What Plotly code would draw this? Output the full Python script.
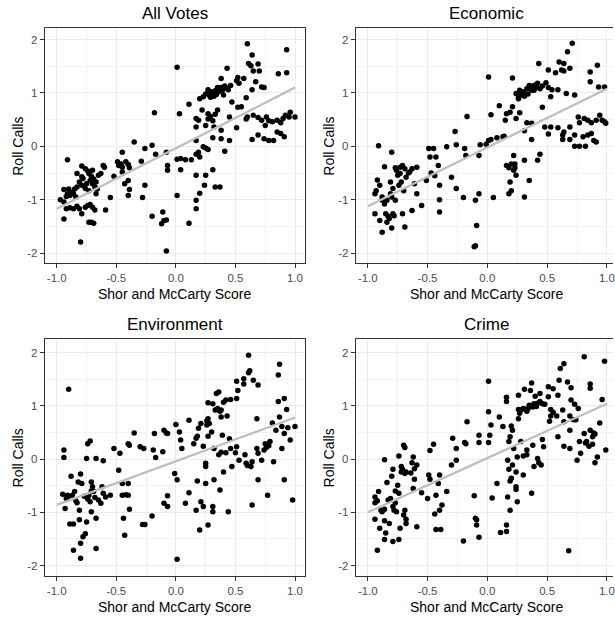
import plotly.graph_objects as go

# ---- data: (Shor and McCarty score, roll-call score) per legislator ----
all_votes = [
    (-0.91,-0.25),(-0.94,-0.81),(-0.94,-1.04),(-0.94,-1.36),(-0.92,-0.94),(-0.91,-0.89),(-0.89,-0.92),
    (-0.88,-0.86),(-0.86,-0.89),(-0.84,-0.95),(-0.83,-0.76),(-0.83,-0.51),(-0.81,-0.67),(-0.79,-0.37),
    (-0.79,-0.57),(-0.79,-0.73),(-0.76,-0.42),(-0.74,-0.46),(-0.73,-0.51),(-0.72,-0.64),(-0.71,-0.56),
    (-0.70,-0.70),(-0.69,-0.61),(-0.68,-0.76),(-0.67,-0.67),(-0.65,-0.54),(-0.63,-0.51),(-0.61,-0.36),
    (-0.60,-0.39),(-0.67,-0.89),(-0.76,-0.79),(-0.73,-0.83),(-0.92,-1.17),(-0.89,-1.15),(-0.86,-1.17),
    (-0.83,-1.12),(-0.81,-1.17),(-0.79,-1.26),(-0.76,-1.14),(-0.74,-1.11),(-0.72,-1.09),(-0.70,-1.14),
    (-0.68,-1.19),(-0.71,-1.42),(-0.69,-1.44),(-0.73,-1.42),(-0.80,-1.79),(-0.59,-1.19),(-0.55,-0.96),
    (-0.97,-1.00),(-0.90,-0.80),(-0.85,-0.80),(-0.78,-0.60),(-0.75,-0.70),(-0.70,-0.45),(-0.66,-0.80),
    (-0.35,0.08),(-0.52,-0.56),(-0.45,-0.11),(-0.49,-0.29),(-0.48,-0.36),(-0.46,-0.33),(-0.45,-0.39),
    (-0.42,-0.29),(-0.40,-0.34),(-0.39,-0.40),(-0.45,-0.48),(-0.43,-0.70),(-0.40,-0.64),(-0.39,-0.81),
    (-0.40,-0.92),(-0.29,-0.28),(-0.26,-0.04),(-0.26,-0.73),(-0.28,-0.96),(-0.20,0.02),(-0.17,-0.15),
    (-0.18,0.63),(-0.20,-1.31),
    (0.01,1.48),(0.03,0.61),(0.11,0.79),(-0.08,-0.11),(-0.07,-0.36),(-0.07,-0.45),(0.01,-0.24),
    (0.04,-0.23),(0.08,-0.25),(0.13,-0.25),(0.04,-0.44),(0.01,-0.92),(-0.11,-1.23),(-0.10,-1.39),
    (-0.12,-1.45),(-0.08,-1.38),(-0.08,-1.96),(0.11,-1.44),(0.17,-1.17),(0.17,-1.01),(0.20,-0.88),
    (0.24,-0.73),(0.17,-0.54),(0.25,-0.54),(0.17,-0.15),(0.19,-0.11),(0.23,-0.01),(0.25,-0.03),
    (0.27,-0.06),(0.20,-0.20),(0.17,0.11),(0.17,0.36),(0.17,0.52),(0.19,0.49),(0.22,0.68),(0.31,-0.44),
    (0.33,-0.76),(0.37,-0.76),(0.31,0.16),(0.32,0.36),(0.38,0.30),(0.38,0.14),(0.45,0.11),(0.41,-0.09),
    (0.20,0.89),(0.23,0.93),(0.25,0.98),(0.27,1.06),(0.28,0.96),(0.30,1.02),(0.32,0.94),(0.33,1.04),
    (0.35,1.10),(0.36,1.02),(0.38,1.27),(0.38,1.10),(0.40,0.96),(0.41,1.13),(0.43,1.46),(0.44,1.06),
    (0.46,1.14),(0.47,0.83),(0.51,1.23),(0.52,1.29),(0.53,1.18),(0.57,1.27),(0.59,0.91),(0.60,1.92),
    (0.61,1.55),(0.63,1.51),(0.64,1.71),(0.69,1.54),(0.65,1.41),(0.70,1.41),(0.67,1.21),(0.64,1.06),
    (0.72,1.11),(0.74,1.10),(0.86,1.36),(0.93,1.38),(0.93,1.81),(0.52,0.73),(0.55,0.74),(0.45,0.55),
    (0.51,0.35),(0.60,0.55),(0.59,0.51),(0.65,0.58),(0.27,0.61),(0.29,0.56),(0.33,0.60),(0.27,0.51),
    (0.31,0.48),(0.35,0.68),(0.25,0.39),(0.31,0.99),(0.34,0.97),(0.39,1.05),(0.42,1.09),(0.29,0.92),
    (0.69,0.54),(0.72,0.49),(0.76,0.55),(0.78,0.48),(0.81,0.46),(0.85,0.49),(0.88,0.44),(0.90,0.52),
    (0.92,0.58),(0.95,0.55),(0.96,0.64),(1.00,0.55),(0.75,0.39),(0.85,0.27),(0.88,0.24),(0.91,0.18),
    (0.69,0.21),(0.64,0.13),(0.74,0.14),(0.78,0.11),(0.82,0.11),
]

economic = [
    (-0.91,0.01),(-0.80,-0.11),(-0.94,-0.89),(-0.94,-1.26),(-0.92,-0.63),(-0.90,-0.73),(-0.88,-0.95),
    (-0.88,-1.61),(-0.90,-1.39),(-0.86,-0.38),(-0.86,-1.08),(-0.85,-1.26),(-0.84,-1.42),(-0.83,-1.31),
    (-0.81,-0.89),(-0.81,-0.67),(-0.80,-0.95),(-0.80,-1.53),(-0.79,-1.26),(-0.77,-1.01),(-0.76,-0.45),
    (-0.75,-0.54),(-0.74,-0.73),(-0.73,-0.39),(-0.73,-0.51),(-0.72,-0.67),(-0.71,-1.26),(-0.70,-0.83),
    (-0.69,-1.51),(-0.69,-0.42),(-0.68,-0.58),(-0.65,-0.48),(-0.63,-0.42),(-0.61,-0.70),(-0.59,-0.39),
    (-0.63,-1.20),(-0.59,-0.89),(-0.55,-1.11),(-0.88,-1.01),(-0.84,-1.01),(-0.79,-0.79),(-0.93,-0.83),
    (-0.77,-0.40),(-0.71,-0.36),(-0.66,-0.50),(-0.82,-1.35),(-0.78,-1.30),
    (-0.51,-0.64),(-0.48,-0.20),(-0.49,-0.04),(-0.45,-0.04),(-0.47,-0.50),(-0.43,-0.20),(-0.41,-0.36),
    (-0.40,-0.73),(-0.40,-1.00),(-0.40,-1.23),(-0.34,-0.01),(-0.30,-0.58),(-0.27,0.28),(-0.26,0.03),
    (-0.26,-0.79),(-0.20,-0.96),(-0.19,-0.04),(-0.18,-0.17),(-0.17,0.56),(-0.44,-0.55),
    (0.01,1.30),(-0.06,0.03),(-0.07,-0.17),(-0.10,-1.01),(-0.07,-0.89),(-0.09,-1.48),(-0.10,-1.86),
    (-0.11,-1.88),(-0.01,0.04),(0.01,0.11),(0.03,0.13),(0.03,0.59),(0.05,-0.96),(0.08,0.16),(0.10,0.76),
    (0.13,0.18),(0.14,0.19),(0.15,0.49),(0.16,0.61),(0.18,-0.89),(0.19,-0.67),(0.20,-0.83),(0.21,1.28),
    (0.22,-0.17),(0.16,-0.36),(0.20,-0.33),(0.23,-0.33),(0.22,-0.45),(0.24,-0.54),(0.31,-0.26),
    (0.31,-0.95),(0.35,-0.64),(0.21,0.74),(0.19,0.64),(0.24,0.52),(0.27,0.63),(0.31,0.29),(0.33,0.44),
    (0.37,0.13),(0.42,-0.26),(0.44,-0.15),(0.18,-0.40),(0.23,-0.40),
    (0.24,0.99),(0.26,0.89),(0.27,1.05),(0.28,0.96),(0.30,1.02),(0.31,0.94),(0.33,1.08),(0.34,0.98),
    (0.35,1.14),(0.37,1.05),(0.38,1.13),(0.39,1.05),(0.41,1.10),(0.42,1.18),(0.43,1.55),(0.44,1.08),
    (0.46,1.13),(0.49,1.19),(0.51,1.10),(0.51,1.43),(0.53,0.93),(0.54,1.06),(0.57,1.38),(0.59,1.06),
    (0.60,1.58),(0.62,1.43),(0.64,1.55),(0.64,1.41),(0.67,1.77),(0.71,1.93),(0.69,1.46),(0.66,0.99),
    (0.73,0.96),(0.86,1.39),(0.86,1.21),(0.92,1.52),(0.93,1.11),(0.98,1.11),(0.46,0.73),(0.48,0.36),
    (0.37,0.43),(0.51,0.23),(0.59,0.35),(0.53,0.36),(0.63,0.21),(0.63,0.13),(0.64,0.27),(0.26,0.91),
    (0.36,1.10),(0.40,1.15),
    (0.69,0.36),(0.76,0.55),(0.77,0.44),(0.81,0.52),(0.84,0.49),(0.87,0.44),(0.91,0.49),(0.94,0.58),
    (0.96,0.49),(0.98,0.46),(0.99,0.43),(0.73,0.21),(0.69,0.13),(0.73,0.00),(0.77,0.00),(0.82,0.00),
    (0.80,0.18),(0.84,0.21),(0.87,0.24),(0.89,0.11),(0.91,0.08),
]

environment = [
    (-0.90,1.31),(-0.94,0.17),(-0.94,0.03),(-0.95,-0.66),(-0.92,-0.74),(-0.93,-0.93),(-0.91,-0.68),
    (-0.88,-0.32),(-0.89,-1.22),(-0.86,-1.22),(-0.86,-1.71),(-0.85,-0.61),(-0.83,-0.82),(-0.82,-0.43),
    (-0.81,-0.96),(-0.81,-1.14),(-0.80,-0.28),(-0.79,-0.46),(-0.80,-1.86),(-0.80,-1.58),(-0.78,-1.46),
    (-0.75,0.01),(-0.74,0.29),(-0.72,0.34),(-0.75,-1.18),(-0.73,-0.68),(-0.72,-0.80),(-0.71,-0.43),
    (-0.71,-0.99),(-0.70,-0.52),(-0.69,-0.61),(-0.68,-0.72),(-0.67,0.01),(-0.67,-1.11),(-0.67,-1.68),
    (-0.65,-0.77),(-0.63,-0.83),(-0.61,-0.03),(-0.62,-0.52),(-0.61,-0.64),(-0.59,-0.71),(-0.55,-0.68),
    (-0.90,-0.70),(-0.87,-0.68),(-0.84,-0.78),(-0.77,-0.70),(-0.74,-0.75),(-0.71,-0.60),(-0.76,-1.40),
    (-0.52,0.20),(-0.47,0.11),(-0.48,-0.21),(-0.45,-0.46),(-0.45,-0.68),(-0.44,-1.11),(-0.43,-1.43),
    (-0.40,-0.68),(-0.40,-0.46),(-0.39,-0.94),(-0.40,0.29),(-0.39,0.26),(-0.35,0.49),(-0.30,0.23),
    (-0.27,0.20),(-0.28,-1.23),(-0.26,-1.23),(-0.20,-1.07),(-0.18,0.48),(-0.17,0.03),(-0.19,0.17),
    (-0.11,0.14),(-0.10,0.54),(-0.08,0.49),(-0.07,0.48),(-0.10,-0.83),(-0.07,-0.69),(-0.07,-0.89),
    (-0.42,-0.67),
    (0.00,0.65),(-0.01,-0.27),(0.01,-0.39),(0.01,-1.88),(0.03,0.51),(0.04,0.36),(0.05,0.20),(0.11,0.73),
    (0.11,-0.63),(0.08,-0.83),(0.15,0.29),(0.17,0.39),(0.18,0.43),(0.19,0.58),(0.18,-0.41),(0.17,-0.96),
    (0.20,-1.33),(0.21,-0.80),(0.23,0.24),(0.21,0.67),(0.23,-0.89),(0.25,-0.08),(0.25,-0.14),(0.25,-0.46),
    (0.27,1.06),(0.26,0.64),(0.27,0.76),(0.28,0.67),(0.27,0.43),(0.27,-1.24),(0.30,0.51),(0.31,1.04),
    (0.32,0.20),(0.32,-0.39),(0.31,-0.89),(0.31,-0.99),(0.33,0.92),(0.35,0.95),(0.36,1.26),(0.36,0.08),
    (0.37,-0.58),(0.38,0.92),(0.38,0.79),(0.39,0.45),(0.40,-0.24),(0.42,1.11),(0.42,0.12),(0.43,0.81),
    (0.44,-0.99),(0.46,1.12),(0.47,-0.14),(0.46,0.20),(0.51,1.46),(0.51,1.14),(0.52,1.29),(0.51,0.23),
    (0.50,0.12),(0.53,-0.02),(0.57,1.51),(0.57,1.41),(0.58,0.08),(0.59,-0.08),(0.61,1.62),(0.61,1.95),
    (0.62,1.66),(0.63,-0.14),(0.64,-0.86),(0.65,1.48),(0.68,0.76),(0.69,1.39),(0.68,0.20),(0.69,0.11),
    (0.69,-0.39),(0.72,-0.02),(0.74,0.17),(0.75,0.29),(0.77,-0.68),(0.79,0.33),(0.81,0.68),(0.82,-0.05),
    (0.84,0.54),(0.87,0.79),(0.86,1.08),(0.86,1.58),(0.87,1.78),(0.89,0.20),(0.89,0.61),(0.91,0.48),
    (0.91,1.14),(0.91,-0.39),(0.93,0.93),(0.94,0.59),(0.96,0.36),(0.98,-0.77),(1.00,0.61),(0.34,1.23),
    (0.37,0.90),(0.40,1.07),(0.45,0.38),(0.60,-0.12),(0.76,0.22),(0.78,0.25),(0.26,0.72),(0.38,0.13),
    (0.64,-0.05),
]

crime = [
    (-0.92,-1.71),(-0.94,-0.71),(-0.94,-1.13),(-0.94,-0.82),(-0.91,-0.61),(-0.90,-1.30),(-0.89,-0.96),
    (-0.88,-0.99),(-0.86,-1.16),(-0.86,-0.94),(-0.86,-0.01),(-0.85,-1.39),(-0.86,-1.51),(-0.84,-0.44),
    (-0.83,-0.77),(-0.82,-1.21),(-0.81,-0.74),(-0.80,-0.32),(-0.79,-0.19),(-0.79,-1.55),(-0.79,-0.89),
    (-0.78,-0.96),(-0.77,-0.82),(-0.76,-0.99),(-0.75,-0.49),(-0.74,-0.64),(-0.74,0.06),(-0.74,-1.51),
    (-0.73,-1.30),(-0.72,-0.14),(-0.72,-0.24),(-0.71,-0.19),(-0.70,0.26),(-0.69,0.22),(-0.69,-0.96),
    (-0.69,-0.27),(-0.68,-1.13),(-0.68,-0.24),(-0.68,-1.21),(-0.64,-0.26),(-0.63,-0.07),(-0.62,0.04),
    (-0.61,-0.38),(-0.61,-0.18),(-0.59,-0.11),(-0.59,-1.27),(-0.62,-0.55),(-0.92,-0.78),(-0.77,-0.60),
    (-0.70,-1.05),
    (-0.55,-0.63),(-0.50,-0.74),(-0.48,0.16),(-0.49,-0.30),(-0.48,-0.38),(-0.45,0.28),(-0.44,-1.03),
    (-0.43,-0.68),(-0.43,-1.32),(-0.41,-0.46),(-0.40,-0.30),(-0.40,-0.96),(-0.39,-1.32),(-0.38,-0.86),
    (-0.34,-0.61),(-0.30,-0.11),(-0.29,0.39),(-0.26,-0.02),(-0.26,0.20),(-0.20,-1.54),(-0.19,0.31),
    (-0.18,0.29),(-0.17,0.70),(-0.11,-0.69),(-0.10,-1.11),(-0.09,-1.14),(-0.09,-1.24),(-0.07,-1.47),
    (-0.07,0.45),(-0.07,0.31),
    (0.01,0.31),(0.01,1.46),(0.01,0.89),(0.02,0.45),(0.03,0.64),(0.04,-0.73),(0.08,-0.46),(0.10,0.79),
    (0.11,-1.38),(0.13,0.61),(0.16,-1.36),(0.16,1.16),(0.16,1.08),(0.16,-1.24),(0.17,-0.02),(0.17,-0.71),
    (0.18,-0.19),(0.18,0.33),(0.19,0.42),(0.19,-0.41),(0.20,-0.36),(0.19,-0.96),(0.20,0.62),(0.21,0.54),
    (0.21,-0.11),(0.24,-0.24),(0.22,0.20),(0.24,-0.52),(0.24,-0.57),(0.25,0.04),(0.25,-0.80),(0.26,1.20),
    (0.26,0.93),(0.26,0.76),(0.27,0.86),(0.28,0.33),(0.28,0.92),(0.30,0.06),(0.30,-0.30),(0.31,1.31),
    (0.32,0.93),(0.33,0.17),(0.33,0.08),(0.34,0.95),(0.35,1.01),(0.36,1.29),(0.37,-0.64),(0.37,1.43),
    (0.38,0.98),(0.38,0.26),(0.39,-0.14),(0.39,1.04),(0.40,1.18),(0.41,0.99),(0.42,0.01),(0.42,1.05),
    (0.43,-0.07),(0.44,1.23),(0.44,1.08),(0.45,-0.11),(0.46,1.04),(0.46,0.37),(0.47,0.23),(0.51,1.17),
    (0.51,1.36),(0.52,0.71),(0.53,0.81),(0.53,0.93),(0.58,0.81),(0.59,0.42),(0.59,1.20),(0.60,1.48),
    (0.61,1.70),(0.64,1.79),(0.64,0.24),(0.63,0.92),(0.64,0.70),(0.67,1.45),(0.69,0.54),(0.69,0.81),
    (0.70,1.11),(0.68,-1.72),(0.69,0.20),(0.70,1.34),(0.73,1.03),(0.74,0.74),(0.75,-0.02),(0.76,0.95),
    (0.77,0.33),(0.78,0.11),(0.81,1.92),(0.81,0.48),(0.83,0.33),(0.85,0.24),(0.86,1.41),(0.86,1.33),
    (0.86,0.54),(0.88,0.42),(0.89,0.49),(0.90,0.47),(0.90,-0.07),(0.92,0.04),(0.94,0.68),(0.96,1.12),
    (0.98,1.84),(0.99,0.17),(0.30,0.95),(0.33,0.90),(0.36,0.99),(0.48,1.03),(0.55,0.88),(0.72,0.74),
    (0.82,0.30),(0.88,0.28),(0.55,1.32),
]

panel_titles = ["All Votes", "Economic", "Environment", "Crime"]
panel_data = [all_votes, economic, environment, crime]

# least-squares fit per panel: (intercept, slope), drawn over the score span
fit_coef = [(-0.035, 1.135), (-0.02, 1.10), (-0.04, 0.82), (0.02, 1.02)]
fit_span = [-1.0, 1.0]

x_ticks = [-1.0, -0.5, 0.0, 0.5, 1.0]
x_tick_text = ["-1.0", "-0.5", "0.0", "0.5", "1.0"]
y_ticks = [-2, -1, 0, 1, 2]
y_tick_text = ["-2", "-1", "0", "1", "2"]

x_title = "Shor and McCarty Score"
y_title = "Roll Calls"

# ---- layout geometry (pixels in a 615 x 617 canvas) ----
W, H = 615, 617
FONT = "Liberation Sans, Arial, sans-serif"


def fx(p):
    return p / W


def fy(p):
    return 1 - p / H


# left, right, top, bottom edges of each panel, and axis ranges
panels = [
    dict(l=45, r=306, t=28.3, b=263.3, xr=[-1.1, 1.084], yr=[-2.19, 2.21], mirror_y=True),
    dict(l=357, r=615, t=28.3, b=263.3, xr=[-1.1, 1.0507], yr=[-2.19, 2.21], mirror_y=False),
    dict(l=45, r=306, t=339.3, b=575.7, xr=[-1.1, 1.084], yr=[-2.19, 2.25], mirror_y=True),
    dict(l=357, r=615, t=339.3, b=575.7, xr=[-1.1, 1.0507], yr=[-2.19, 2.25], mirror_y=False),
]

fig = go.Figure()
annotations = []
layout_axes = {}

for i, (pts, title, (b0, b1), g) in enumerate(zip(panel_data, panel_titles, fit_coef, panels)):
    n = i + 1
    xa = "x" if n == 1 else f"x{n}"
    ya = "y" if n == 1 else f"y{n}"
    xs = [p[0] for p in pts]
    ys = [p[1] for p in pts]

    fig.add_trace(go.Scatter(
        x=xs, y=ys, mode="markers", xaxis=xa, yaxis=ya,
        marker=dict(color="black", size=5.5, line=dict(width=0)),
        showlegend=False, hoverinfo="x+y",
    ))
    fig.add_trace(go.Scatter(
        x=fit_span, y=[b0 + b1 * v for v in fit_span], mode="lines",
        xaxis=xa, yaxis=ya, line=dict(color="#BDBDBD", width=2.2),
        showlegend=False, hoverinfo="skip",
    ))

    common = dict(
        showline=True, linecolor="#333333", linewidth=1.1,
        ticks="outside", ticklen=4, tickwidth=1.1, tickcolor="#333333",
        tickfont=dict(family=FONT, size=11.5, color="#4D4D4D"),
        showgrid=True, gridcolor="#EBEBEB", gridwidth=1.1, zeroline=False,
        ticklabeloverflow="allow",
    )
    layout_axes["xaxis" if n == 1 else f"xaxis{n}"] = dict(
        common, domain=[fx(g["l"]), fx(g["r"])], range=g["xr"], anchor=ya,
        tickvals=x_ticks, ticktext=x_tick_text, mirror=True,
        minor=dict(dtick=0.25, tick0=0, showgrid=True, gridcolor="#F2F2F2", gridwidth=0.8, ticks=""),
    )
    layout_axes["yaxis" if n == 1 else f"yaxis{n}"] = dict(
        common, domain=[fy(g["b"]), fy(g["t"])], range=g["yr"], anchor=xa,
        tickvals=y_ticks, ticktext=y_tick_text, mirror=g["mirror_y"],
        minor=dict(dtick=0.5, tick0=0, showgrid=True, gridcolor="#F2F2F2", gridwidth=0.8, ticks=""),
    )

    right_edge = 619 if g["r"] == W else g["r"]
    cx = (g["l"] + right_edge) / 2
    cy = (g["t"] + g["b"]) / 2
    annotations.append(dict(
        text=title, x=fx(cx), y=fy(g["t"] - 15), xref="paper", yref="paper",
        xanchor="center", yanchor="middle", showarrow=False,
        font=dict(family=FONT, size=17, color="black"),
    ))
    annotations.append(dict(
        text=x_title, x=fx(cx), y=fy(g["b"] + 31), xref="paper", yref="paper",
        xanchor="center", yanchor="middle", showarrow=False,
        font=dict(family=FONT, size=14, color="black"),
    ))
    annotations.append(dict(
        text=y_title, x=fx(g["l"] - 27), y=fy(cy), xref="paper", yref="paper",
        xanchor="center", yanchor="middle", showarrow=False, textangle=-90,
        font=dict(family=FONT, size=14, color="black"),
    ))

fig.update_layout(
    width=W, height=H,
    margin=dict(l=0, r=0, t=0, b=0),
    paper_bgcolor="white", plot_bgcolor="white",
    annotations=annotations,
    font=dict(family=FONT),
    **layout_axes,
)

fig.write_html("out.html")
